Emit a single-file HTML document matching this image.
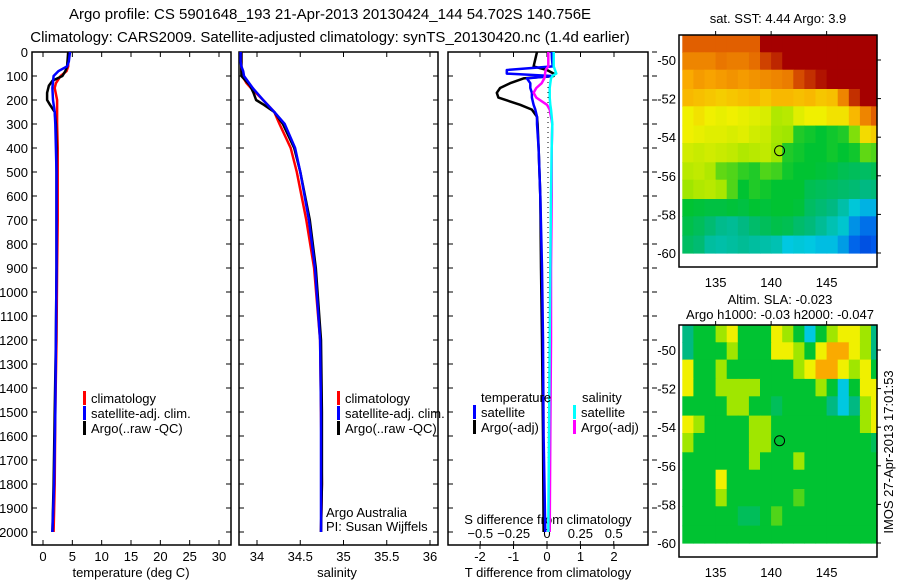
<!DOCTYPE html>
<html><head><meta charset="utf-8"><style>
body{margin:0;background:#fff;}
svg{display:block;font-family:"Liberation Sans","DejaVu Sans",sans-serif;}
text{font-size:13px;fill:#000;}
</style></head><body>
<svg id="chart" width="900" height="580" xmlns="http://www.w3.org/2000/svg">
<text x="330" y="19" text-anchor="middle" style="font-size:15px">Argo profile: CS 5901648_193 21-Apr-2013 20130424_144 54.702S 140.756E</text>
<text x="330" y="42" text-anchor="middle" style="font-size:15px">Climatology: CARS2009. Satellite-adjusted climatology: synTS_20130420.nc (1.4d earlier)</text>
<g id="g"></g>
</svg>
<script>
// ---- data ----
const depthTicks=[0,100,200,300,400,500,600,700,800,900,1000,1100,1200,1300,1400,1500,1600,1700,1800,1900,2000];
const tempTicks=[0,5,10,15,20,25,30];
const salTicks=[34,34.5,35,35.5,36];
const tdiffTicks=[-2,-1,0,1,2];
const sdiffTicks=[-0.5,-0.25,0,0.25,0.5];
const climDepth=[0,60,80,100,130,150,200,250,300,400,500,700,900,1200,1500,1800,2000];
const climTemp=[4.3,4.3,4.0,3.0,2.2,2.0,2.4,2.4,2.4,2.5,2.5,2.5,2.4,2.3,2.1,2.0,1.8];
const climSal=[33.82,33.82,33.82,33.83,33.88,33.93,34.07,34.2,34.26,34.39,34.46,34.57,34.66,34.73,34.74,34.75,34.74];
const adjDepth=[0,40,60,80,100,150,200,250,300,400,500,700,900,1200,1500,1800,2000];
const adjTemp=[4.6,4.4,4.1,2.6,1.8,1.6,1.7,2.0,2.1,2.2,2.3,2.3,2.3,2.2,2.1,1.9,1.6];
const adjSal=[33.81,33.81,33.82,33.84,33.85,33.95,34.07,34.2,34.32,34.44,34.5,34.6,34.67,34.73,34.74,34.74,34.74];
const argoDepth=[0,60,80,100,120,140,170,200,220,250,300,400,500,700,900,1200,1500,1800,2000];
const argoTemp=[4.3,4.1,3.8,3.3,1.6,1.0,0.7,0.7,1.2,2.0,2.2,2.3,2.3,2.3,2.3,2.2,2.0,1.8,1.6];
const argoSal=[33.82,33.82,33.82,33.82,33.87,33.92,33.96,33.99,34.08,34.2,34.3,34.43,34.5,34.61,34.68,34.74,34.75,34.75,34.74];
const diffDepth=[0,30,60,75,90,100,110,130,150,170,190,220,240,270,300,400,600,900,1200,1600,2000];
const satTdiff=[0.14,0.15,0.17,-1.2,-1.2,0.15,-0.6,-0.5,-0.5,-0.45,-0.45,-0.4,-0.35,-0.3,-0.3,-0.25,-0.2,-0.15,-0.12,-0.1,-0.05];
const argoTdiff=[-0.3,-0.35,-0.4,0.0,0.2,0.2,-0.7,-1.1,-1.4,-1.5,-1.45,-0.8,-0.45,-0.3,-0.28,-0.25,-0.2,-0.18,-0.15,-0.12,-0.1];
const satSdiff=[0.05,0.05,0.05,0.06,0.07,0.04,0.03,0.025,0.02,0.02,0.02,0.025,0.03,0.035,0.04,0.035,0.03,0.025,0.02,0.015,0.01];
const argoSdiff=[0.01,0.01,0.01,-0.01,-0.015,-0.015,-0.02,-0.04,-0.08,-0.1,-0.08,0.0,0.02,0.03,0.04,0.035,0.035,0.03,0.03,0.025,0.02];
const lonTicks=[135,140,145];
const latTicks=[-50,-52,-54,-56,-58,-60];
const gridLons=[132,133,134,135,136,137,138,139,140,141,142,143,144,145,146,147,148,149];
const gridLats=[-48.7,-49.6,-50.5,-51.5,-52.4,-53.4,-54.3,-55.3,-56.2,-57.2,-58.1,-59.1];
const sstGrid=[
[9,9,9,9,9,9,9,10,10,10,10,10,10,10,10,10,10,10],
[8.5,8.5,8.5,8.7,8.6,8.6,8.8,9.3,9.6,10,10,10,10,10,10,10,10,10],
[8,8.2,8.1,8.2,8.3,8.2,8.3,8.4,8.5,8.6,9.2,9.5,9.8,10,10,10,10,10],
[7.8,7.7,7.6,7.5,7.6,7.7,7.8,7.6,7.8,7.8,7.7,7.8,7.6,7.7,8.5,9.5,10,10],
[7,7.2,7,6.9,7,6.9,6.8,6.7,6.2,6.3,6.8,7,7,7.2,7.2,7.8,8.5,9],
[7,6.9,6.8,6.8,6.7,6.8,6.6,6.5,6.1,6,5.2,5.1,5,5.1,5.2,5.8,7.3,7.5],
[6.6,6.5,6.6,6.5,6.4,6.2,6.3,6.4,6.0,5.2,5.1,5,5,5.1,5.0,5.1,5.6,5.5],
[6.3,6.4,6.2,5.6,5.5,5.3,5.2,5.5,5.4,5.1,5.0,5.0,4.9,4.8,4.6,4.5,4.4,4.6],
[6,6.2,6.3,6.1,5.5,5.0,5.2,5.1,5.0,5.0,5.0,4.6,4.5,4.4,4.3,4.2,4.0,4.1],
[5,4.9,4.8,4.8,4.9,4.8,5.0,4.9,5,5,4.9,4.4,4.2,4.0,3.6,3.1,2.8,2.8],
[4.7,4.5,4.2,3.9,3.8,4.0,4.3,4.5,4.7,4.6,4.3,4.1,3.8,3.5,3.2,2.5,2.2,2.2],
[4.4,4.2,3.7,3.6,3.7,3.8,3.7,3.6,3.5,3.0,3.1,3.0,2.9,2.9,2.6,2.1,1.8,2.0]];
const slaGrid=[
[4,5,5,6,7,5,5,5,7,6,5,3,5,6,7,7,6,4],
[4,5,5,5,6,5,5,5,7,7,6,5,7,8,8,7,6,4],
[7,5,5,6,5,5,5,5,5,5,6,7,8,8,7,6,7,5],
[7,5,5,6,6,6,6,5,5,5,5,5,6,5,3,5,7,7],
[5,5,5,5,6,6,5,5,4.5,5,5,5,5,4,3,4,6,7],
[7,6,5,5,5,5,6,6,5,5,5,5,5,5,5,5,6,7],
[6,5,5,5,5,5,6,6,5,5,5,5,5,5,5,5,5,4.5],
[5,5,5,5,5,5,6,5,5,5,6,5,5,5,5,5,5,5],
[5,5,5,7,5,5,5,5,5,5,5,5,5,5,5,5,5,5],
[5,5,5,6,5,5,5,5,5,5,5.5,5,5,5,5,5,5,5],
[5,5,5,5,5,4.5,4.5,5,5.5,5,5,5,5,5,5,5,5,5],
[5,5,5,5,5,5,5,5,5,5,5,5,5,5,5,5,5,5]];
const floatLon=[140.76];
const floatLat=[-54.7];

// ---- helpers ----
const NS="http://www.w3.org/2000/svg";
const G=document.getElementById('g');
function mk(tag,attrs,parent){const e=document.createElementNS(NS,tag);for(const k in attrs)e.setAttribute(k,attrs[k]);(parent||G).appendChild(e);return e;}
function txt(x,y,s,anchor,parent){const t=mk('text',{x:x,y:y,'text-anchor':anchor||'middle'},parent);t.textContent=s;return t;}
const yD=d=>52+d*0.24;
const PT=52,PB=545;
const xT=v=>43+v*5.867;
const xS=v=>257+(v-34)*86.5;
const xTd=v=>547+v*33.5;
const xSd=v=>547+v*133.5;

function panel(name,x0,x1,labels){
  const g=mk('g',{});
  
  
  const r=mk('rect',{x:x0,y:PT,width:x1-x0,height:PB-PT,fill:'none',stroke:'#000','stroke-width':1.5},g);
  
  
  depthTicks.forEach(d=>{
    mk('line',{x1:x0,x2:x0+5,y1:yD(d),y2:yD(d),stroke:'#000'},g);
    mk('line',{x1:x1,x2:x1-5,y1:yD(d),y2:yD(d),stroke:'#000'},g);
    if(labels){const t=txt(28,yD(d)+5,String(d),'end',g);
      
      }
  });
  return g;
}
function line(g,xs,ds,fx,color,name,w,dash){
  const pts=xs.map((v,i)=>fx(v).toFixed(1)+','+yD(ds[i]).toFixed(1)).join(' ');
  const p=mk('polyline',{points:pts,fill:'none',stroke:color,'stroke-width':w||2.5,'stroke-linejoin':'round'},g);
  if(dash)p.setAttribute('stroke-dasharray',dash);
  
  
}
function legend(g,x,y,items){
  items.forEach((it,i)=>{
    mk('rect',{x:x,y:y+i*15-6,width:3,height:14,fill:it[0]},g);
    const t=txt(x+8,y+i*15+6,it[1],'start',g);
    
    
  });
}

// ---- panel 1: temperature ----
const p1=panel('temperature-panel',32,231,true);
tempTicks.forEach(v=>{mk('line',{x1:xT(v),x2:xT(v),y1:PB,y2:PB-5,stroke:'#000'},p1);mk('line',{x1:xT(v),x2:xT(v),y1:PT,y2:PT+5,stroke:'#000'},p1);
  const t=txt(xT(v),561,String(v),'middle',p1);});
let at=txt(131,577,'temperature (deg C)','middle',p1);
line(p1,climTemp,climDepth,xT,'#f00','clim-temp-line');
line(p1,argoTemp,argoDepth,xT,'#000','argo-temp-line');
line(p1,adjTemp,adjDepth,xT,'#00f','sat-adj-temp-line');
legend(p1,83,397,[['#f00','climatology'],['#00f','satellite-adj. clim.'],['#000','Argo(..raw -QC)']]);

// ---- panel 2: salinity ----
const p2=panel('salinity-panel',239,438,false);
salTicks.forEach(v=>{mk('line',{x1:xS(v),x2:xS(v),y1:PB,y2:PB-5,stroke:'#000'},p2);mk('line',{x1:xS(v),x2:xS(v),y1:PT,y2:PT+5,stroke:'#000'},p2);
  const t=txt(xS(v),561,String(v),'middle',p2);});
at=txt(337,577,'salinity','middle',p2);
line(p2,climSal,climDepth,xS,'#f00','clim-sal-line');
line(p2,argoSal,argoDepth,xS,'#000','argo-sal-line');
line(p2,adjSal,adjDepth,xS,'#00f','sat-adj-sal-line');
legend(p2,337,397,[['#f00','climatology'],['#00f','satellite-adj. clim.'],['#000','Argo(..raw -QC)']]);
at=txt(326,517,'Argo Australia','start',p2);
at=txt(326,531,'PI: Susan Wijffels','start',p2);

// ---- panel 3: differences ----
const p3=panel('difference-panel',448,648,false);
depthTicks.forEach(d=>mk('line',{x1:652,x2:657,y1:yD(d),y2:yD(d),stroke:'#000'},p3));
tdiffTicks.forEach(v=>{mk('line',{x1:xTd(v),x2:xTd(v),y1:PB,y2:PB+4,stroke:'#000'},p3);mk('line',{x1:xTd(v),x2:xTd(v),y1:PT,y2:PT+5,stroke:'#000'},p3);
  const t=txt(xTd(v),561,String(v),'middle',p3);});
sdiffTicks.forEach(v=>{mk('line',{x1:xSd(v),x2:xSd(v),y1:PB,y2:PB-4,stroke:'#000'},p3);
  const t=txt(xSd(v),538,String(v).replace('-','\u2212'),'middle',p3);});
at=txt(548,577,'T difference from climatology','middle',p3);
at=txt(548,524,'S difference from climatology','middle',p3);
const zl=mk('line',{x1:xTd(0)+1,x2:xTd(0)+1,y1:PT+25,y2:PB-55,stroke:'#000','stroke-dasharray':'1,4'},p3);

line(p3,argoTdiff,diffDepth,xTd,'#000','argo-tdiff-line');
line(p3,satTdiff,diffDepth,xTd,'#00f','sat-tdiff-line');
line(p3,argoSdiff,diffDepth,xSd,'#f0f','argo-sdiff-line');
line(p3,satSdiff,diffDepth,xSd,'#0ff','sat-sdiff-line');
at=txt(481,402,'temperature','start',p3);
at=txt(582,402,'salinity','start',p3);
legend(p3,473,411,[['#00f','satellite'],['#000','Argo(-adj)']]);
legend(p3,573,411,[['#0ff','satellite'],['#f0f','Argo(-adj)']]);

// ---- maps ----
const stops=[[0,[0,0,140]],[2,[0,90,235]],[3,[0,200,225]],[4,[0,185,130]],[5,[0,195,50]],[6,[160,230,0]],[7,[240,240,0]],[8,[250,170,0]],[9,[225,95,0]],[10,[165,0,0]]];
function col(v){for(let i=1;i<stops.length;i++){if(v<=stops[i][0]){const a=stops[i-1],b=stops[i],t=(v-a[0])/(b[0]-a[0]);
  const c=a[1].map((q,k)=>Math.round(q+(b[1][k]-q)*t));return 'rgb('+c.join(',')+')';}}return 'rgb(165,0,0)';}
function map(name,top,grid,title1,title2){
  const X0=679,X1=877,Y0=top,Y1=top+232;
  const xL=l=>X0+(l-131.7)*11.1;
  const yL=l=>top+25+(-50-l)*19.3;
  const g=mk('g',{});
  
  
  grid.forEach((row,r)=>row.forEach((v,c)=>{
    const x=xL(gridLons[c]),x2=c+1<gridLons.length?xL(gridLons[c+1]):X1;
    const y=r===0?Y0:yL(gridLats[r]),y2=r+1<gridLats.length?yL(gridLats[r+1]):yL(-60);
    const cell=mk('rect',{x:Math.max(x,X0).toFixed(1),y:y.toFixed(1),width:(x2-Math.max(x,X0)+0.6).toFixed(1),height:(y2-y+0.6).toFixed(1),fill:col(v)},g);
    
    
  }));
  const fr=mk('rect',{x:X0,y:Y0,width:X1-X0,height:Y1-Y0,fill:'none',stroke:'#000','stroke-width':1.5},g);
  
  lonTicks.forEach(l=>{mk('line',{x1:xL(l),x2:xL(l),y1:Y0,y2:Y0-4,stroke:'#000'},g);
    const t=txt(xL(l),Y1+20,String(l),'middle',g);});
  latTicks.forEach(l=>{mk('line',{x1:X1,x2:X1+4,y1:yL(l),y2:yL(l),stroke:'#000'},g);
    const t=txt(676,yL(l)+5,String(l),'end',g);});
  floatLon.forEach((lo,i)=>{const c=mk('circle',{cx:xL(lo),cy:yL(floatLat[i]),r:5,fill:'none',stroke:'#000','stroke-width':1},g);
    });
  if(title2){let t=txt(780,top-21,title1,'middle',g);
    t=txt(780,top-6,title2,'middle',g);}
  else{const t=txt(778,top-12,title1,'middle',g);}
}
map('sst-map',35,sstGrid,'sat. SST: 4.44  Argo: 3.9');
map('sla-map',325,slaGrid,'Altim. SLA: -0.023','Argo h1000: -0.03 h2000: -0.047');
const im=txt(0,0,'IMOS 27-Apr-2013 17:01:53','middle');
im.setAttribute('transform','translate(893,452) rotate(-90)');


</script>
</body></html>
